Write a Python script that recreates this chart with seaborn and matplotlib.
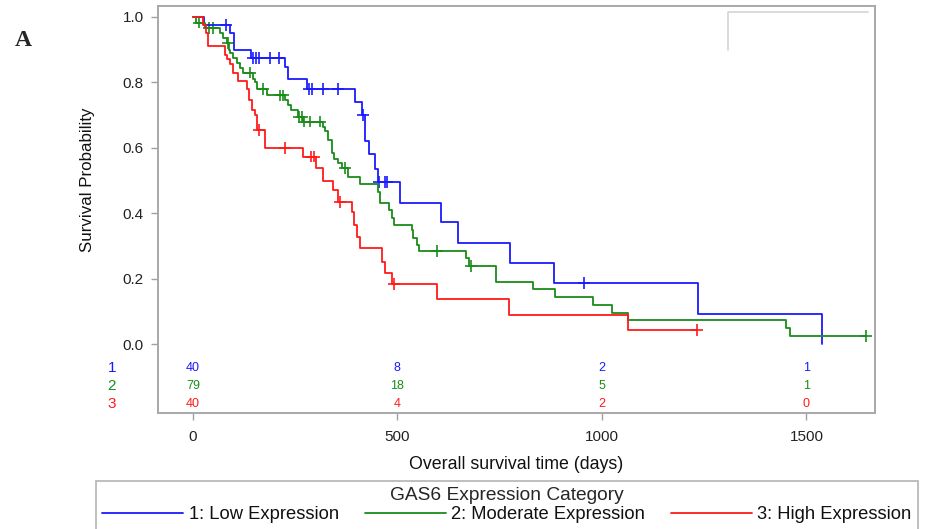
import numpy as np
import pandas as pd
import matplotlib.pyplot as plt
import seaborn as sns
from matplotlib.lines import Line2D

# Kaplan-Meier steps (days, survival after the drop)
low_times = [27, 90, 100, 142, 225, 232, 279, 396, 413, 421, 430, 445, 452,
             506, 606, 648, 775, 883, 1235, 1538]
low_surv = [0.975, 0.95, 0.90, 0.875, 0.848, 0.81, 0.78, 0.74, 0.70, 0.62,
            0.58, 0.535, 0.495, 0.43, 0.373, 0.31, 0.248, 0.187, 0.092, 0.0]
low_cens = [81, 147, 154, 161, 188, 210, 284, 291, 318, 355, 416, 455, 469,
            474, 956]

mod_times = [7, 29, 66, 73, 83, 88, 90, 98, 108, 115, 122, 147, 152, 156,
             181, 225, 232, 240, 257, 269, 318, 323, 330, 340, 345, 355, 364,
             379, 408, 452, 457, 479, 487, 491, 535, 538, 548, 553, 667, 675,
             741, 831, 885, 978, 1024, 1064, 1450, 1460]
mod_surv = [0.983, 0.966, 0.95, 0.935, 0.92, 0.90, 0.89, 0.875, 0.86, 0.844,
            0.83, 0.81, 0.80, 0.78, 0.76, 0.746, 0.73, 0.715, 0.695, 0.68,
            0.665, 0.65, 0.625, 0.585, 0.565, 0.553, 0.538, 0.51, 0.488,
            0.465, 0.43, 0.41, 0.385, 0.364, 0.349, 0.324, 0.303, 0.284,
            0.263, 0.239, 0.19, 0.168, 0.144, 0.119, 0.095, 0.073, 0.049,
            0.024]
mod_cens = [15, 39, 49, 86, 139, 171, 213, 220, 259, 267, 271, 286, 310, 372,
            597, 680, 1645]

high_times = [24, 32, 37, 78, 83, 90, 98, 110, 132, 137, 144, 152, 156, 176,
              269, 301, 318, 342, 355, 389, 394, 401, 408, 462, 469, 487, 597,
              773, 1064]
high_surv = [0.975, 0.95, 0.91, 0.885, 0.87, 0.855, 0.83, 0.805, 0.78, 0.746,
             0.715, 0.70, 0.654, 0.60, 0.573, 0.538, 0.50, 0.47, 0.434, 0.404,
             0.364, 0.327, 0.294, 0.25, 0.217, 0.183, 0.138, 0.089, 0.043]
high_cens = [161, 225, 289, 296, 360, 491, 1232]

groups = ["1: Low Expression", "2: Moderate Expression", "3: High Expression"]
colors = ["#1a1aff", "#1a8c1a", "#ff1a1a"]

risk_days = [0, 500, 1000, 1500]
risk_low = [40, 8, 2, 1]
risk_mod = [79, 18, 5, 1]
risk_high = [40, 4, 2, 0]

curves = [(low_times, low_surv, low_cens),
          (mod_times, mod_surv, mod_cens),
          (high_times, high_surv, high_cens)]

line_rows, cens_rows = [], []
for g, (t, s, c) in zip(groups, curves):
    tt = [0] + list(t)
    ss = [1.0] + list(s)
    if max(c) > tt[-1]:
        tt.append(max(c))
        ss.append(ss[-1])
    for a, b in zip(tt, ss):
        line_rows.append((g, a, b))
    for ct in c:
        idx = np.searchsorted(tt, ct, side="right") - 1
        cens_rows.append((g, ct, ss[idx]))

lines = pd.DataFrame(line_rows, columns=["group", "time", "surv"])
cens = pd.DataFrame(cens_rows, columns=["group", "time", "surv"])

sns.set_theme(style="white")
plt.rcParams["font.family"] = ["Liberation Sans", "DejaVu Sans"]

fig = plt.figure(figsize=(9.28, 5.29), dpi=100)
ax = fig.add_axes([0.170, 0.219, 0.773, 0.770])

pal = dict(zip(groups, colors))
sns.lineplot(data=lines, x="time", y="surv", hue="group", palette=pal,
             estimator=None, drawstyle="steps-post", linewidth=1.3,
             legend=False, ax=ax)
sns.scatterplot(data=cens, x="time", y="surv", hue="group", palette=pal,
                marker="+", s=70, linewidth=1.2, legend=False, ax=ax)

ax.set_xlim(-86, 1668)
ax.set_ylim(-0.211, 1.034)
ax.set_yticks([0.0, 0.2, 0.4, 0.6, 0.8, 1.0])
ax.set_yticklabels(["0.0", "0.2", "0.4", "0.6", "0.8", "1.0"])
ax.set_xticks(risk_days)
ax.tick_params(axis="both", which="both", direction="out", length=5,
               width=1, color="#a0a0a0", labelsize=11, labelcolor="#222222",
               left=True, bottom=True, pad=5)
ax.tick_params(axis="x", pad=7)
for sp in ax.spines.values():
    sp.set_color("#a8a8a8")
    sp.set_linewidth(1.4)

ax.set_xlabel("Overall survival time (days)", fontsize=12.8, color="#111111")
ax.set_ylabel("Survival Probability", fontsize=12.2, color="#111111")
ax.yaxis.set_label_coords(-0.088, 0.572)
ax.xaxis.set_label_coords(0.5, -0.106)

# number at risk rows
risk_rows = [risk_low, risk_mod, risk_high]
row_y = [-0.0734, -0.128, -0.183]
for i, (vals, y, col) in enumerate(zip(risk_rows, row_y, colors)):
    ax.text(-198, y, str(i + 1), color=col, fontsize=11, ha="center",
            va="center", clip_on=False)
    for d, v in zip(risk_days, vals):
        ax.text(d, y, str(v), color=col, fontsize=9, ha="center",
                va="center")

# empty inset box in upper right
ax.plot([0.795, 0.795, 0.990], [0.892, 0.985, 0.985], color="#d4d4d4",
        linewidth=1.2, transform=ax.transAxes)

handles = [Line2D([0], [0], color=c, linewidth=1.3) for c in colors]
leg = fig.legend(handles, groups, loc="upper left",
                 bbox_to_anchor=(96 / 928, 0.0, 822 / 928, 0.0907),
                 mode="expand", ncol=3, title="GAS6 Expression Category",
                 fontsize=13.2, title_fontsize=13.8, handlelength=4.4,
                 handletextpad=0.3, borderpad=0.35, labelspacing=0.1,
                 borderaxespad=0.0, fancybox=False, framealpha=1,
                 edgecolor="#b4b4b4")
leg.get_frame().set_linewidth(1.2)
for t in leg.get_texts():
    t.set_color("#111111")

fig.text(15 / 928, 1 - 40 / 529, "A", fontsize=17, fontweight="bold",
         family="Liberation Serif", ha="left", va="center")

fig.savefig("out.png", dpi=100)
